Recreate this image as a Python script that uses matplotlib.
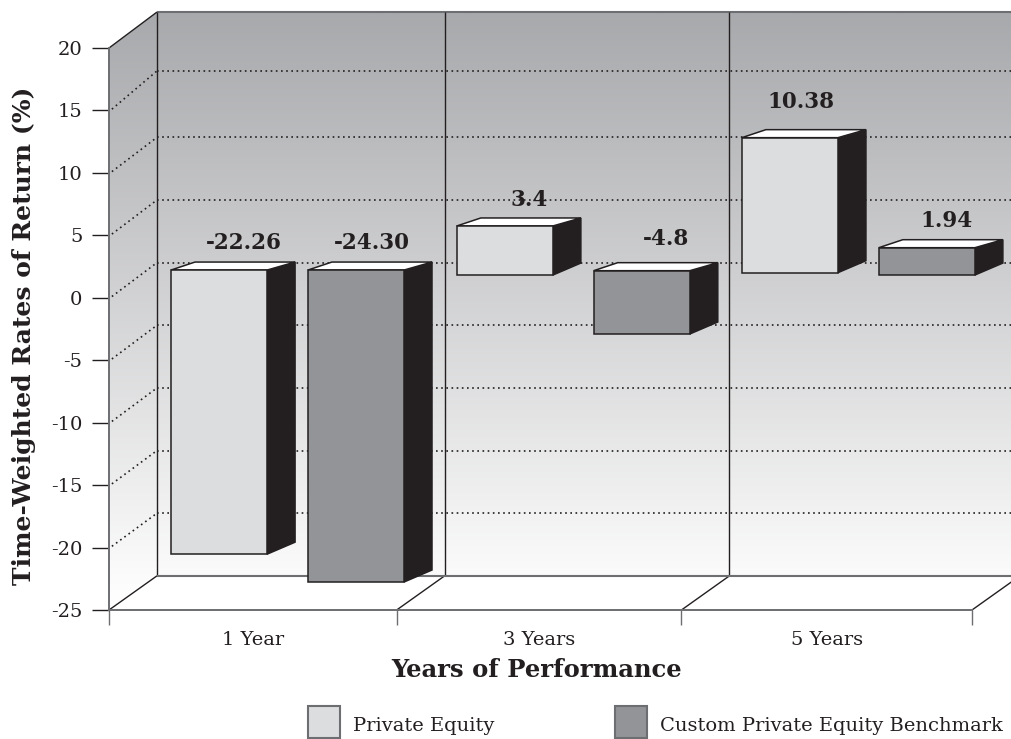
import numpy as np
import matplotlib
matplotlib.use("Agg")
import matplotlib.pyplot as plt
from matplotlib.colors import LinearSegmentedColormap
from matplotlib.patches import Patch, Polygon

periods = ["1 Year", "3 Years", "5 Years"]
series_names = ["Private Equity", "Custom Private Equity Benchmark"]
value_labels = [["-22.26", "3.4", "10.38"], ["-24.30", "-4.8", "1.94"]]

# bar extents as drawn in the picture (they do not follow the labels exactly)
bar_tops = [[0.15, 3.68, 10.75], [0.15, 0.1, 1.94]]
bar_bottoms = [[-22.6, -0.25, -0.06], [-24.83, -4.97, -0.25]]

y_ticks = [20, 15, 10, 5, 0, -5, -10, -15, -20, -25]
wall_grid = [15.3, 10, 5, 0, -5, -10, -15, -20]
x_edges = [0, 1.0, 1.99, 3.0]

INK = "#231f20"
GREY_LINE = "#6d6e71"
LIGHT = "#dcdddf"
DARK = "#929497"
SERIF = "DejaVu Serif"
PX_U = 863 / 3  # pixels per category
PX_V = 562 / 45  # pixels per percent
DOTS = (0, (1, 2.1))

fig = plt.figure(figsize=(10.12, 7.39), dpi=100)
ax = fig.add_axes([109 / 1012, 1 - 610 / 739, 863 / 1012, 562 / 739])
ax.patch.set_alpha(0)


def wall(u, v):
    # front plane -> back wall
    return u + 48 / PX_U, 22.88 - (20 - v) * 1.0032


def line(xs, ys, color=INK, lw=1.0, ls="-", z=2):
    ax.plot(xs, ys, color=color, lw=lw, ls=ls, clip_on=False, zorder=z, solid_capstyle="butt")


# walls with the grey to white gradient
far_u = 3.2
corners = [(0, 20), wall(0, 20), wall(far_u, 20), wall(far_u, -25), wall(0, -25), (0, -25)]
shade = LinearSegmentedColormap.from_list("wall", [(0, "#a8a9ac"), (0.943, "#fbfbfb"), (1, "#ffffff")])
img = ax.imshow(np.linspace(0, 1, 512).reshape(-1, 1), cmap=shade, aspect="auto",
                extent=[0, far_u + 0.2, -25, 22.88], zorder=0)
img.set_clip_box(fig.bbox)
img.set_clip_path(Polygon(corners, transform=ax.transData))

# dotted grid on the side and back walls
for v in wall_grid:
    front_v = round(v)
    bx, by = wall(0, v)
    line([0.01, bx], [front_v + 0.1, by], lw=1.2, ls=DOTS, z=1)
    line([bx, wall(far_u, v)[0]], [by, by], lw=1.2, ls=DOTS, z=1)

# wall frame
bx, by = wall(0, 20)
line([0, bx], [20, by], lw=1.0)
line([bx, wall(far_u, 20)[0]], [by, by], color=GREY_LINE, lw=1.5)
for edge in x_edges:
    bx, top = wall(edge, 20)
    _, floor = wall(edge, -25)
    line([edge, bx], [-25, floor], lw=1.0)
    if edge < 3:
        line([bx, bx], [floor, top], lw=1.0)
bx0, floor = wall(0, -25)
line([bx0, wall(far_u, -25)[0]], [floor, floor], color=GREY_LINE, lw=1.5)

# bars, standing on a plane inside the box
BAR_LIFT = 2.07
bar_starts = [0.2155, 1.209, 2.2]
BAR_STEP = 0.476
BAR_W = 0.334
SIDE_U = 28 / PX_U
TOP_U = 24 / PX_U
TOP_V = 8 / PX_V
SIDE_LOW_V = 12 / PX_V
label_dx = [[25, 24, 11], [16, 24, 20]]
label_dy = [[27, 26, 36], [27, 32, 27]]
fills = [LIGHT, DARK]

for s in range(2):
    for g in range(3):
        x0 = bar_starts[g] + s * BAR_STEP
        x1 = x0 + BAR_W
        top = bar_tops[s][g] + BAR_LIFT
        low = bar_bottoms[s][g] + BAR_LIFT
        z = 5 + s + 3 * g
        faces = [
            ([(x1, low), (x1 + SIDE_U, low + SIDE_LOW_V), (x1 + SIDE_U, top + TOP_V), (x1, top)], INK),
            ([(x0, top), (x0 + TOP_U, top + TOP_V), (x1 + SIDE_U, top + TOP_V), (x1, top)], "white"),
            ([(x0, low), (x1, low), (x1, top), (x0, top)], fills[s]),
        ]
        for pts, color in faces:
            ax.add_patch(Polygon(pts, closed=True, facecolor=color, edgecolor=INK, lw=1.1,
                                 joinstyle="miter", clip_on=False, zorder=z))
        ax.annotate(value_labels[s][g], xy=((x0 + x1) / 2, top), xytext=(label_dx[s][g] * 0.72, label_dy[s][g] * 0.72),
                    textcoords="offset points", ha="center", va="center", fontsize=15.5, family=SERIF,
                    fontweight="bold", color=INK, zorder=20, annotation_clip=False)

# axes
ax.set_xlim(0, 3)
ax.set_ylim(-25, 20)
for side in ["top", "right"]:
    ax.spines[side].set_visible(False)
for side in ["left", "bottom"]:
    ax.spines[side].set_color(GREY_LINE)
    ax.spines[side].set_linewidth(1.4)
    ax.spines[side].set_zorder(3)

ax.set_yticks(y_ticks)
ax.set_yticklabels([str(t) for t in y_ticks], fontsize=14, family=SERIF, color=INK)
ax.tick_params(axis="y", length=12, width=1.0, color=INK, pad=7)
ax.set_xticks(x_edges)
ax.set_xticklabels([])
ax.tick_params(axis="x", which="major", length=11, width=1.0, color=GREY_LINE)
mid = [(x_edges[i] + x_edges[i + 1]) / 2 for i in range(3)]
ax.set_xticks(mid, minor=True)
ax.set_xticklabels(periods, minor=True, fontsize=14, family=SERIF, color=INK)
ax.tick_params(axis="x", which="minor", length=0, pad=15)

ax.set_xlabel("Years of Performance", fontsize=17.5, family=SERIF, fontweight="bold", color=INK)
ax.xaxis.set_label_coords(0.496, -0.107)
ax.set_ylabel("Time-Weighted Rates of Return (%)", fontsize=18, family=SERIF, fontweight="bold", color=INK)
ax.yaxis.set_label_coords(-0.099, 0.488)
ax.yaxis.label.set_va("center")
ax.xaxis.label.set_va("center")

handles = [Patch(facecolor=c, edgecolor=GREY_LINE, lw=1.5) for c in fills]
FS = 14.0
FS_PX = FS / 0.72
leg = ax.legend(handles, series_names, loc="lower left", bbox_to_anchor=(308 / 1012, 1 / 739),
                bbox_transform=fig.transFigure, ncol=2, frameon=False, borderpad=0, borderaxespad=0,
                handlelength=32 / FS_PX, handleheight=(32 / FS_PX - 0.245) / 0.65, handletextpad=13 / FS_PX,
                columnspacing=121 / FS_PX, labelcolor=INK, prop={"family": SERIF, "size": FS})
for t in leg.get_texts():
    t.set_y(-3)

fig.savefig("out.png", dpi=100)
